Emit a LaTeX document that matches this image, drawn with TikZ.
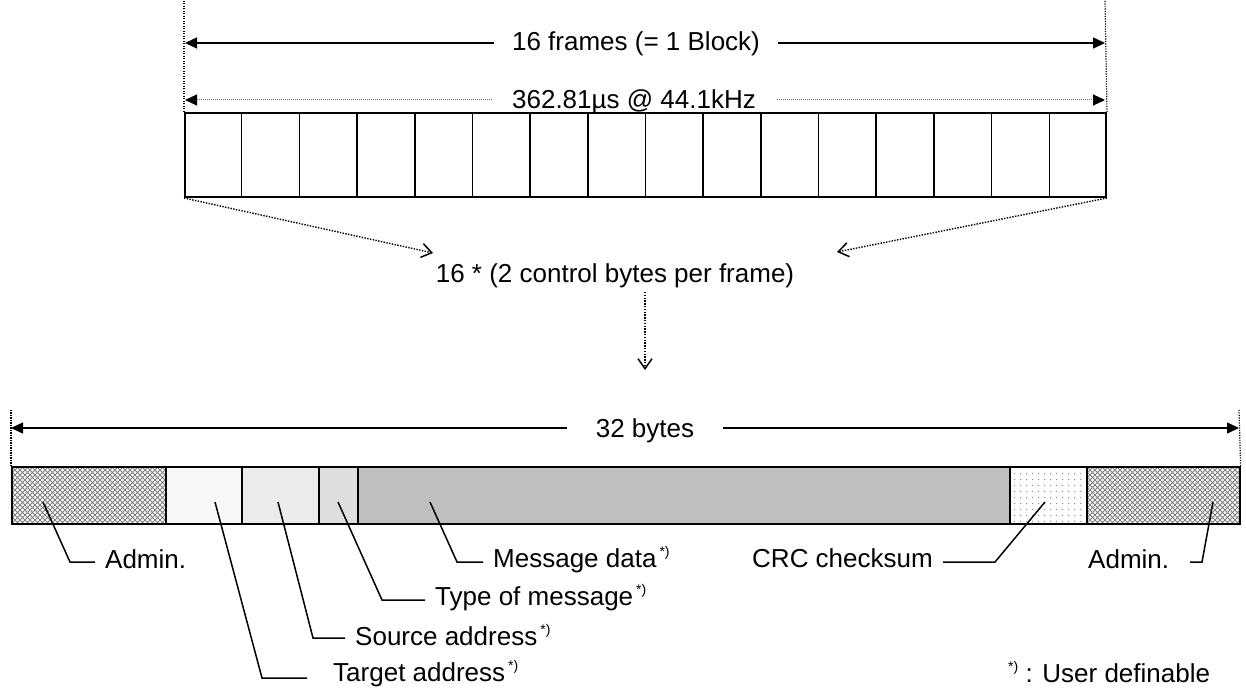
\documentclass[tikz,border=0pt]{standalone}
\usepackage{fontspec}
\setmainfont{Liberation Sans}
\usetikzlibrary{arrows.meta,patterns.meta,calc}

\tikzdeclarepattern{
  name=admhatch,
  type=uncolored,
  bottom left={(-.5pt,-.5pt)},
  top right={(5.5pt,5.5pt)},
  tile size={(5pt,5pt)},
  code={\draw[line width=.75pt] (0pt,0pt) -- (5pt,5pt) (0pt,5pt) -- (5pt,0pt);}
}
\tikzdeclarepattern{
  name=crcdots,
  type=uncolored,
  bottom left={(0pt,0pt)},
  top right={(6pt,6pt)},
  tile size={(6pt,6pt)},
  code={\fill (0pt,0pt) rectangle (1.3pt,1.3pt);}
}
\newcommand\usrdef{\hspace{3pt}\raisebox{11pt}{\fontsize{14}{14}\selectfont *)}}

\begin{document}
\begin{tikzpicture}[x=1pt,y=-1pt,
  lbl/.style={font=\fontsize{26}{31}\selectfont, inner sep=0pt, text=black},
  gaplbl/.style={lbl, fill=white, inner ysep=0pt, text height=15pt, text depth=0pt, anchor=base},
  dimarrow/.style={line width=1.4pt,
    {Triangle[length=12pt,width=11pt]}-{Triangle[length=12pt,width=11pt]}},
  dimdots/.style={line width=1pt, draw=black!55, dash pattern=on 1pt off 1pt,
    {Triangle[length=12pt,width=11pt,color=black]}-{Triangle[length=12pt,width=11pt,color=black]}},
  guide/.style={line width=1.2pt, dash pattern=on 1.2pt off 1.3pt},
  dotarrow/.style={line width=1.4pt, dash pattern=on 1.4pt off 1.4pt,
    -{Straight Barb[length=10pt,width=14pt,line width=1.5pt]}},
  seg/.style={draw, line width=1.6pt, minimum height=57pt, inner sep=0pt, anchor=north west},
  leader/.style={line width=1.5pt},
]
\useasboundingbox[fill=white] (0,0) rectangle (1246,690);

% ---------- top: frames ----------
\node[draw, line width=2pt, minimum width=921pt, minimum height=84pt,
      inner sep=0pt, anchor=north west] (frame) at (184,112) {};
\foreach \i in {1,...,15}
  \draw[line width=1.6pt] ($(frame.north west)!\i/16!(frame.north east)$)
        -- ($(frame.south west)!\i/16!(frame.south east)$);

\coordinate (gtl) at (184,0);
\coordinate (gtr) at (1105,0);
\draw[guide] (frame.north west) -- (gtl);
\draw[guide] (frame.north east) -- (gtr);

\coordinate (a1l) at (185,43);
\coordinate (a1r) at (1105,43);
\draw[dimarrow] (a1l) -- (a1r);
\node[gaplbl, inner xsep=18pt] (t16) at (636,51) {16 frames (= 1 Block)};

\coordinate (a2l) at (185,100);
\coordinate (a2r) at (1105,100);
\draw[dimdots] (a2l) -- (a2r);
\node[gaplbl, inner xsep=20pt] (tus) at (634,109) {362.81µs @ 44.1kHz};

\node[lbl, anchor=base] (ctrl) at (615,282) {16 * (2 control bytes per frame)};
\coordinate (ctrlL) at (433,253);
\coordinate (ctrlR) at (837,252);
\draw[dotarrow] (frame.south west) -- (ctrlL);
\draw[dotarrow] (frame.south east) -- (ctrlR);

\coordinate (dnS) at (645,292);
\coordinate (dnE) at (645,370);
\draw[dotarrow] (dnS) -- (dnE);

% ---------- bottom: 32 bytes ----------
\node[seg, minimum width=154pt, pattern=admhatch, pattern color=black!50] (admL) at (11,466) {};
\node[seg, minimum width=76pt, fill=black!3] (tgt) at (165,466) {};
\node[seg, minimum width=77pt, fill=black!8] (src) at (241,466) {};
\node[seg, minimum width=39pt, fill=black!13] (typ) at (318,466) {};
\node[seg, minimum width=652pt, fill=black!25] (msg) at (357,466) {};
\node[seg, minimum width=77pt, pattern=crcdots, pattern color=black!45] (crc) at (1009,466) {};
\node[seg, minimum width=153pt, pattern=admhatch, pattern color=black!50] (admR) at (1086,466) {};

\coordinate (gbl) at (11,410);
\coordinate (gbr) at (1239,410);
\draw[guide] (admL.north west) -- (gbl);
\draw[guide] (admR.north east) -- (gbr);

\coordinate (a3l) at (11,428);
\coordinate (a3r) at (1239,428);
\draw[dimarrow] (a3l) -- (a3r);
\node[gaplbl, inner xsep=29pt] (t32) at (645,437) {32 bytes};

% ---------- labels ----------
\node[lbl, anchor=base west] (lAdmL) at (105,568) {Admin.};
\node[lbl, anchor=base west] (lTgt) at (333,681) {Target address\usrdef};
\node[lbl, anchor=base west] (lSrc) at (355,645) {Source address\usrdef};
\node[lbl, anchor=base west] (lTyp) at (435,605) {Type of message\usrdef};
\node[lbl, anchor=base west] (lMsg) at (493,567) {Message data\usrdef};
\node[lbl, anchor=base west] (lCrc) at (752,567) {CRC checksum};
\node[lbl, anchor=base west] (lAdmR) at (1088,568) {Admin.};
\node[lbl, anchor=base west] (note) at (1008,682) {\raisebox{11pt}{\fontsize{14}{14}\selectfont *)} : User definable};

% ---------- leaders ----------
\coordinate (pAdmL) at (43,502);  \coordinate (cAdmL) at (70,562);  \coordinate (eAdmL) at (95,562);
\coordinate (pTgt) at (215,502);  \coordinate (cTgt) at (262,678);  \coordinate (eTgt) at (307,678);
\coordinate (pSrc) at (278,502);  \coordinate (cSrc) at (313,638);  \coordinate (eSrc) at (345,638);
\coordinate (pTyp) at (338,502);  \coordinate (cTyp) at (382,600);  \coordinate (eTyp) at (425,600);
\coordinate (pMsg) at (430,502);  \coordinate (cMsg) at (457,562);  \coordinate (eMsg) at (483,562);
\coordinate (pCrc) at (1045,502); \coordinate (cCrc) at (995,562);  \coordinate (eCrc) at (943,562);
\coordinate (pAdmR) at (1213,502); \coordinate (cAdmR) at (1202,562); \coordinate (eAdmR) at (1190,562);

\draw[leader] (pAdmL) -- (cAdmL) -- (eAdmL);
\draw[leader] (pTgt) -- (cTgt) -- (eTgt);
\draw[leader] (pSrc) -- (cSrc) -- (eSrc);
\draw[leader] (pTyp) -- (cTyp) -- (eTyp);
\draw[leader] (pMsg) -- (cMsg) -- (eMsg);
\draw[leader] (pCrc) -- (cCrc) -- (eCrc);
\draw[leader] (pAdmR) -- (cAdmR) -- (eAdmR);
\end{tikzpicture}
\end{document}
